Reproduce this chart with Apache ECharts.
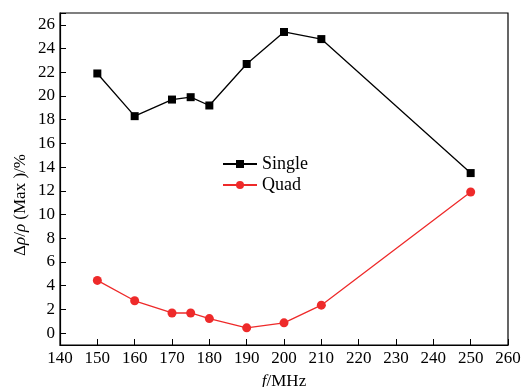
<!DOCTYPE html>
<html>
<head>
<meta charset="utf-8">
<script src="https://cdn.jsdelivr.net/npm/echarts@6/dist/echarts.min.js"></script>
<style>
  html, body { margin: 0; padding: 0; background: #fff; }
  #main { width: 523px; height: 387px; }
</style>
</head>
<body>
<div id="main"></div>
<script>
// 频率 (MHz)
const freqs = [150, 160, 170, 175, 180, 190, 200, 210, 250];
const singleVals = [21.9, 18.3, 19.7, 19.9, 19.2, 22.7, 25.4, 24.8, 13.5];
const quadVals = [4.45, 2.73, 1.7, 1.7, 1.23, 0.45, 0.87, 2.36, 11.9];
const seriesNames = ['Single', 'Quad'];

const font = 'Liberation Serif, Times New Roman, serif';
const chart = echarts.init(document.getElementById('main'));

const toPairs = (vals) => freqs.map((f, i) => [f, vals[i]]);

const option = {
  animation: false,
  textStyle: { fontFamily: font, color: '#000' },
  grid: {
    left: 60, top: 13, right: 15, bottom: 42,
    outerBoundsMode: 'none',
    containLabel: false,
    show: true, borderColor: '#000', borderWidth: 1.2
  },
  legend: {
    data: seriesNames,
    orient: 'vertical',
    left: 217, top: 150,
    itemWidth: 34, itemHeight: 10, itemGap: 3,
    textStyle: { fontFamily: font, fontSize: 18, color: '#000' }
  },
  xAxis: {
    type: 'value',
    min: 140, max: 260, interval: 10,
    name: '{i|f}/MHz',
    nameLocation: 'middle',
    nameGap: 28,
    nameTextStyle: {
      fontFamily: font, fontSize: 17, color: '#000',
      rich: { i: { fontFamily: font, fontSize: 17, fontStyle: 'italic', color: '#000' } }
    },
    axisLine: { onZero: false, lineStyle: { color: '#000', width: 1.2 } },
    axisTick: { inside: true, length: 6, lineStyle: { color: '#000' } },
    axisLabel: { fontFamily: font, fontSize: 17, color: '#000', margin: 5 },
    splitLine: { show: false }
  },
  yAxis: {
    type: 'value',
    min: -1, max: 27, splitNumber: 14,
    axisLine: { show: true, onZero: false, lineStyle: { color: '#000', width: 1.2 } },
    axisTick: { inside: true, length: 6, lineStyle: { color: '#000' } },
    axisLabel: {
      fontFamily: font, fontSize: 17, color: '#000', margin: 5,
      formatter: (v) => (v % 2 === 0 ? String(v) : '')
    },
    splitLine: { show: false }
  },
  graphic: [{
    type: 'text',
    x: 21, y: 205,
    rotation: Math.PI / 2,
    style: {
      text: 'Δ{i|ρ}/{i|ρ} (Max )/%',
      fontFamily: font, fontSize: 17, fill: '#000',
      align: 'center', verticalAlign: 'middle',
      rich: { i: { fontFamily: font, fontSize: 17, fontStyle: 'italic', fill: '#000' } }
    }
  }],
  series: [
    {
      name: 'Single',
      type: 'line',
      data: toPairs(singleVals),
      symbol: 'rect',
      symbolSize: 8,
      color: '#000',
      lineStyle: { width: 1.3, color: '#000' },
      itemStyle: { color: '#000' }
    },
    {
      name: 'Quad',
      type: 'line',
      data: toPairs(quadVals),
      symbol: 'circle',
      symbolSize: 9,
      color: '#ee2a2a',
      lineStyle: { width: 1.3, color: '#ee2a2a' },
      itemStyle: { color: '#ee2a2a' }
    }
  ]
};

chart.setOption(option);
</script>
</body>
</html>
